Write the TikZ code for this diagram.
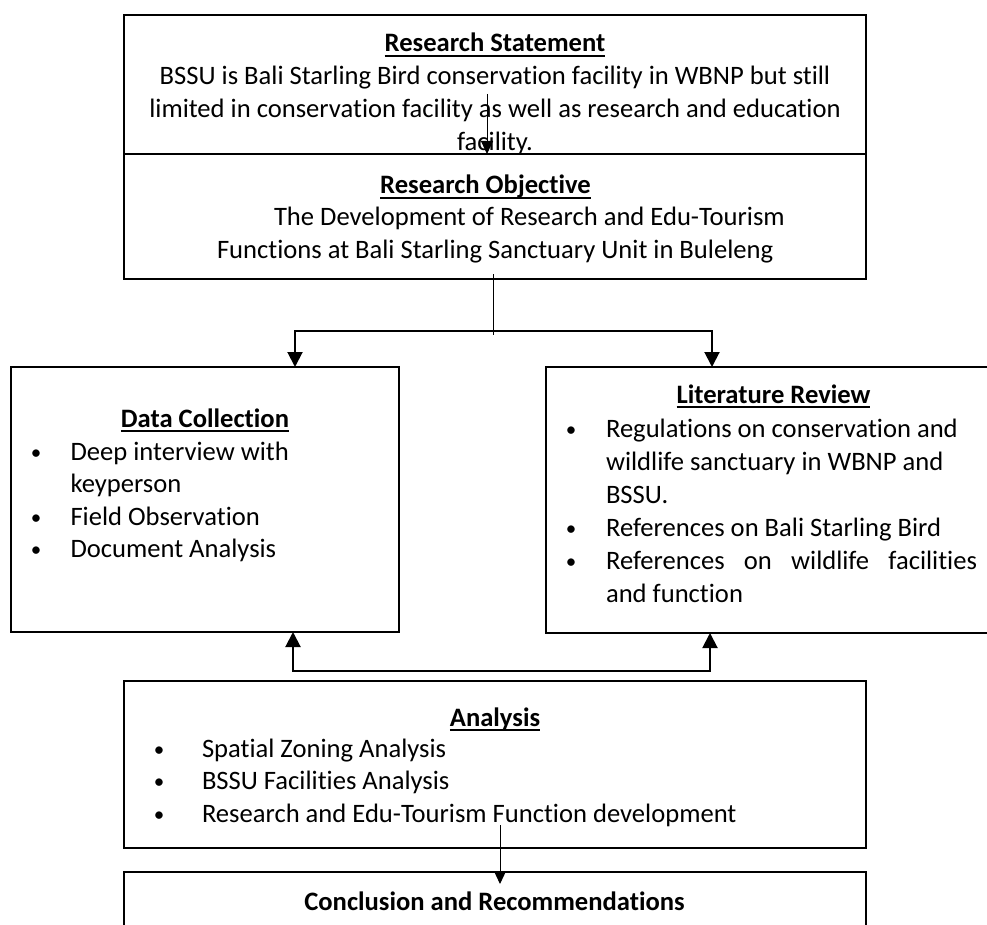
\documentclass[tikz,border=0pt]{standalone}
\usepackage{fontspec}
\setmainfont{Carlito}[Ligatures=NoCommon]
\usetikzlibrary{arrows.meta}
\newsavebox{\hdbox}
\newcommand{\hd}[1]{\sbox{\hdbox}{#1}\rlap{\vrule width \wd\hdbox height -3.0pt depth 4.6pt}\usebox{\hdbox}}
\tikzset{
  box/.style={draw, line width=2.2pt, rectangle, inner sep=0pt, outer sep=0pt, anchor=north west},
  txt/.style={inner sep=0pt, outer sep=0pt, font=\fontsize{26.6}{33}\selectfont},
  hdtxt/.style={txt, font=\fontsize{26.6}{33}\selectfont\bfseries},
  bul/.style={inner sep=0pt, outer sep=0pt, font=\fontsize{21}{33}\selectfont, anchor=base},
  thinarrow/.style={line width=1pt, -{Triangle[length=13pt,width=12pt]}},
  thinline/.style={line width=1pt},
  bracket/.style={line width=2pt, {Triangle[length=15pt,width=15pt]}-{Triangle[length=15pt,width=15pt]}},
}
\begin{document}
\begin{tikzpicture}[x=1pt,y=-1pt]
\useasboundingbox (0,0) rectangle (987,925);
\clip (0,0) rectangle (987,925);
% boxes
\node[box, minimum width=742pt, minimum height=139pt] (stmt) at (124,15) {};
\node[box, minimum width=742pt, minimum height=125pt] (obj) at (124,154) {};
\node[box, minimum width=388pt, minimum height=265pt] (data) at (11,367) {};
\node[box, minimum width=460pt, minimum height=266pt] (lit) at (546,367) {};
\node[box, minimum width=742pt, minimum height=167pt] (ana) at (124,681) {};
\node[box, minimum width=742pt, minimum height=90pt] (concl) at (124,872) {};
% research statement
\node[hdtxt, anchor=base] (stmtT) at (495,52) {\hd{Research Statement}};
\node[txt, anchor=base] (stmt1) at (495,85) {BSSU is Bali Starling Bird conservation facility in WBNP but still};
\node[txt, anchor=base] (stmt2) at (495,118) {limited in conservation facility as well as research and education};
\node[txt, anchor=base] (stmt3) at (495,150.5) {facility.};
% research objective
\node[hdtxt, anchor=base] (objT) at (485.5,194) {\hd{Research Objective}};
\node[txt, anchor=base west] (obj1) at (274,226) {The Development of Research and Edu-Tourism};
\node[txt, anchor=base west] (obj2) at (217,258.5) {Functions at Bali Starling Sanctuary Unit in Buleleng};
% data collection
\node[hdtxt, anchor=base] (dataT) at (205,427) {\hd{Data Collection}};
\foreach \i/\y/\t/\b in {1/460/Deep interview with/1, 2/492.5/keyperson/0, 3/525/Field Observation/1, 4/557.5/Document Analysis/1}{
  \node[txt, anchor=base west] (d\i) at (70.5,\y) {\t};
  \ifnum\b=1 \node[bul] (db\i) at (36,\y-1) {•};\fi
}
% literature review
\node[hdtxt, anchor=base] (litT) at (773.5,403) {\hd{Literature Review}};
\foreach \i/\y/\t/\b in {1/437/Regulations on conservation and/1, 2/470/wildlife sanctuary in WBNP and/0, 3/503/BSSU./0, 4/536/References on Bali Starling Bird/1, 6/602/and function/0}{
  \node[txt, anchor=base west] (l\i) at (606,\y) {\t};
  \ifnum\b=1 \node[bul] (lb\i) at (571,\y-1) {•};\fi
}
\node[txt, anchor=base west] (l5) at (606,569) {\makebox[371pt][s]{References on wildlife facilities}};
\node[bul] (lb5) at (571,568) {•};
% analysis
\node[hdtxt, anchor=base] (anaT) at (495,726) {\hd{Analysis}};
\foreach \i/\y/\t in {1/757/Spatial Zoning Analysis, 2/789.5/BSSU Facilities Analysis, 3/822/Research and Edu-Tourism Function development}{
  \node[txt, anchor=base west] (a\i) at (202,\y) {\t};
  \node[bul] (ab\i) at (159,\y-1) {•};
}
% conclusion
\node[hdtxt, anchor=base] (conclT) at (494.5,910) {Conclusion and Recommendations};
% connectors
\coordinate (s1) at (487,94);
\draw[thinarrow] (s1) -- (s1 |- obj.north);
\coordinate (o1) at (493,274);
\coordinate (o2) at (493,335);
\draw[thinline] (o1) -- (o2);
\coordinate (bl) at (295,331);
\coordinate (br) at (712,331);
\draw[bracket] (bl |- data.north) -- (bl) -- (br) -- (br |- lit.north);
\coordinate (al) at (293,671);
\coordinate (ar) at (710,671);
\draw[bracket] (al |- data.south) -- (al) -- (ar) -- (ar |- lit.south);
\coordinate (c1) at (500,825);
\coordinate (c2) at (500,884);
\draw[thinarrow] (c1) -- (c2);
\end{tikzpicture}
\end{document}
